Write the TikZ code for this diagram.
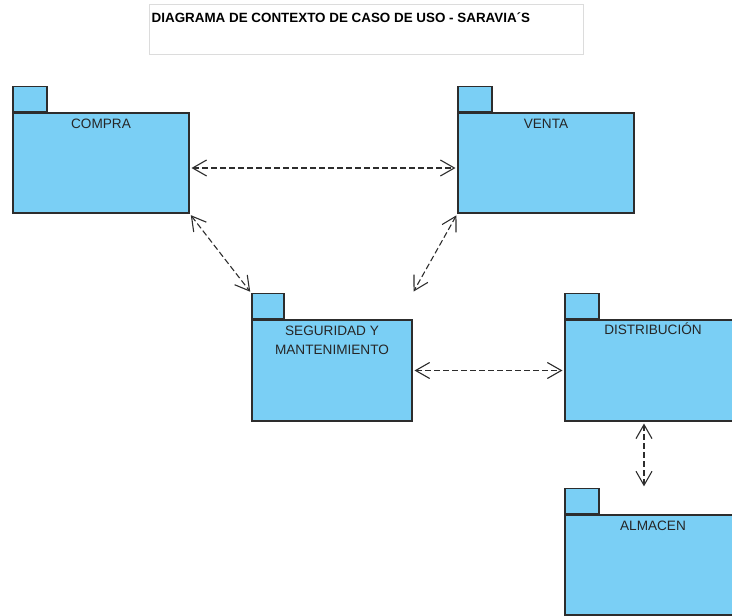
\documentclass[tikz,border=0pt]{standalone}
\usepackage{fontspec}
\setmainfont{Liberation Sans}
\usetikzlibrary{positioning, arrows.meta}
\definecolor{colorPkg}{RGB}{122, 207, 245}
\definecolor{colorLine}{RGB}{45, 45, 45}
\definecolor{colorTitle}{RGB}{220, 220, 220}
\tikzstyle{pkgbody} = [rectangle, minimum width=176pt, minimum height=100pt, draw=colorLine, fill=colorPkg, line width=1.1pt, inner sep=0pt]
\tikzstyle{pkgtab} = [rectangle, minimum width=34pt, minimum height=25pt, draw=colorLine, fill=colorPkg, line width=1.1pt, inner sep=0pt]
\tikzstyle{pkgname} = [align=center, font=\fontsize{13.6}{19.5}\selectfont, text=black!85, inner sep=0pt, anchor=north]
\tikzstyle{titlebox} = [rectangle, minimum width=434pt, minimum height=50pt, draw=colorTitle, line width=1pt, fill=white]
\tikzstyle{arrow} = [draw=colorLine, line width=1.1pt, dash pattern=on 6pt off 3pt, {Straight Barb[length=14pt, width=16pt]}-{Straight Barb[length=14pt, width=16pt]}, shorten <=2pt, shorten >=2pt]

\begin{document}
\begin{tikzpicture}[x=1pt, y=-1pt]

	\clip (0,0) rectangle (732,616);

	% title
	\node (title)[titlebox] at (366,29) {};
	\node (titleTxt)[anchor=north west, inner sep=0pt, font=\bfseries\fontsize{13.4}{15}\selectfont] at ([xshift=3pt, yshift=-8.5pt]title.north west) {DIAGRAMA DE CONTEXTO DE CASO DE USO - SARAVIA´S};

	% packages
	\node (compra)[pkgbody] at (101,163) {};
	\node (compraTab)[pkgtab, above right=0pt of compra.north west] {};
	\node (compraTxt)[pkgname, below=6pt of compra.north] {COMPRA};

	\node (venta)[pkgbody] at (546,163) {};
	\node (ventaTab)[pkgtab, above right=0pt of venta.north west] {};
	\node (ventaTxt)[pkgname, below=6pt of venta.north] {VENTA};

	\node (seguridad)[pkgbody, minimum width=160pt, minimum height=101pt] at (332,370.5) {};
	\node (seguridadTab)[pkgtab, minimum width=32pt, above right=0pt of seguridad.north west] {};
	\node (seguridadTxt)[pkgname, below=6pt of seguridad.north] {SEGURIDAD Y\\MANTENIMIENTO};

	\node (distribucion)[pkgbody, minimum height=101pt] at (653,370.5) {};
	\node (distribucionTab)[pkgtab, above right=0pt of distribucion.north west] {};
	\node (distribucionTxt)[pkgname, text height=9.3pt, below=6pt of distribucion.north] {DISTRIBUCIÓN};

	\node (almacen)[pkgbody] at (653,565) {};
	\node (almacenTab)[pkgtab, above right=0pt of almacen.north west] {};
	\node (almacenTxt)[pkgname, below=6pt of almacen.north] {ALMACEN};

	% lines and arrows
	\coordinate (almacenIn) at (distribucion.south |- almacenTab.north);
	\draw[arrow] ([yshift=-5pt]compra.east) -- ([yshift=-5pt]venta.west);
	\draw[arrow] (compra.south east) -- (seguridadTab.north west);
	\draw[arrow] (venta.south west) -- (seguridad.north east |- seguridadTab.north);
	\draw[arrow] (seguridad.east) -- (distribucion.west);
	\draw[arrow] ([xshift=-9pt]distribucion.south) -- ([xshift=-9pt]almacenIn);

\end{tikzpicture}
\end{document}
